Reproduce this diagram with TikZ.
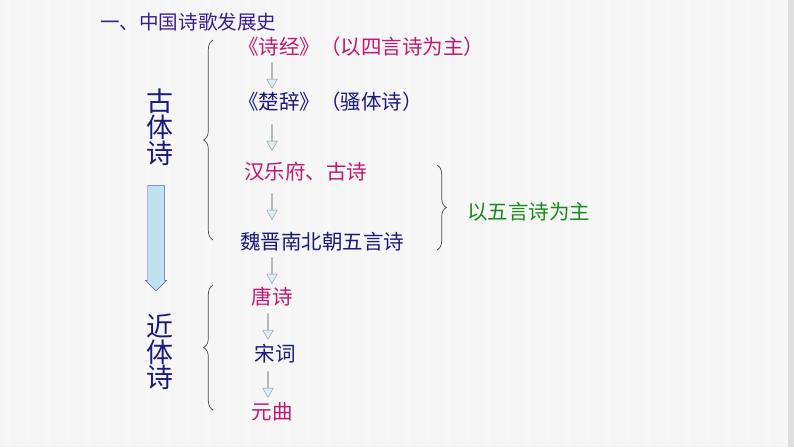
\documentclass[tikz,border=0pt]{standalone}
\usepackage{fontspec}
\newfontfamily\cjk{Noto Sans CJK SC}
\usetikzlibrary{positioning, arrows.meta, shapes.arrows, decorations.pathreplacing}
\definecolor{magentapoem}{HTML}{C0186E}
\definecolor{navypoem}{HTML}{1A1A7A}
\definecolor{titlepurple}{HTML}{3A1E8C}
\definecolor{greenpoem}{HTML}{1A8A1A}
\definecolor{arrowblue}{HTML}{BFE3EE}
\tikzset{
  poem/.style={font=\cjk\fontsize{17.5}{20}\selectfont, inner sep=0pt, anchor=west},
  sidelabel/.style={font=\cjk\fontsize{23}{20.5}\selectfont, text=navypoem, align=center},
  downarrow/.style={single arrow, shape border rotate=270, draw=gray!80, fill=arrowblue!60,
    minimum width=9pt, single arrow head extend=2pt, single arrow tip angle=60, inner sep=0pt, minimum height=22pt},
  bracestyle/.style={decorate, decoration={brace, amplitude=8pt}, draw=black!70, line width=0.6pt},
}
\begin{document}
\begin{tikzpicture}[x=0.03cm, y=-0.03cm]
  % background
  \fill[gray!8] (0,0) rectangle (794,447);
  \foreach \i in {0,...,39}
    \fill[white!70!gray!20] (\i*20+4,0) rectangle (\i*20+11,447);
  \fill[gray!25] (788,0) rectangle (794,447);
  % title
  \node[poem, font=\cjk\fontsize{16.7}{20}\selectfont, text=titlepurple] (title) at (100,22) {一、中国诗歌发展史};
  % main column
  \node[poem, text=magentapoem] (shijing) at (238,47) {《诗经》（以四言诗为主）};
  \node[poem, text=navypoem] (chuci) at (238,102) {《楚辞》（骚体诗）};
  \node[poem, text=magentapoem] (yuefu) at (244,172) {汉乐府、古诗};
  \node[poem, text=navypoem] (weijin) at (240,242) {魏晋南北朝五言诗};
  \node[poem, text=magentapoem, anchor=center] (tang) at (272,297) {唐诗};
  \node[poem, text=navypoem, anchor=center] (song) at (275,354) {宋词};
  \node[poem, text=magentapoem, anchor=center] (yuan) at (272,412) {元曲};
  \node[poem, text=greenpoem] (wuyan) at (467,212) {以五言诗为主};
  % small arrows
  \node[downarrow] (a1) at (272,75) {};
  \node[downarrow] (a2) at (272,137) {};
  \node[downarrow] (a3) at (272,206) {};
  \node[downarrow] (a4) at (272,270) {};
  \node[downarrow] (a5) at (268,326) {};
  \node[downarrow] (a6) at (268,384) {};
  % left labels
  \node[sidelabel] (guti) at (160,127) {古\\体\\诗};
  \node[sidelabel] (jinti) at (160,352) {近\\体\\诗};
  \node[single arrow, shape border rotate=270, draw=gray!70!blue, fill=arrowblue,
    minimum width=18pt, single arrow head extend=1pt, minimum height=90pt, inner sep=4pt] (big) at (156,234) {};
  % braces
  \draw[bracestyle] (213,240) -- (213,40);
  \draw[bracestyle] (213,410) -- (213,285);
  \draw[bracestyle] (437,165) -- (437,250);
\end{tikzpicture}
\end{document}
